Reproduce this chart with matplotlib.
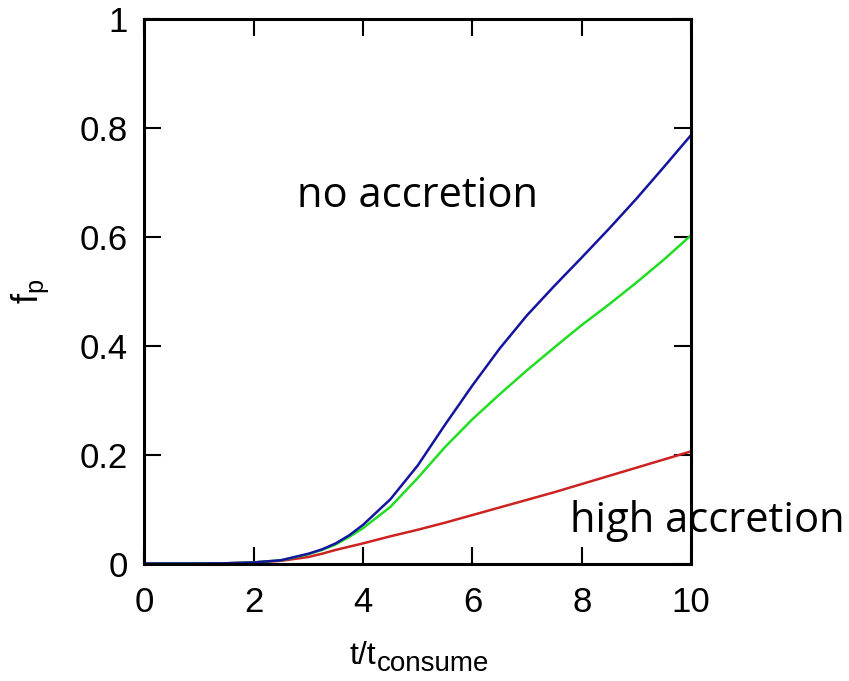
import matplotlib
matplotlib.use('Agg')
import matplotlib.pyplot as plt

# values
t = [0, 1.0, 1.5, 2.0, 2.5, 3.0, 3.25, 3.5, 3.75, 4.0, 4.5, 5.0, 5.5, 6.0, 6.5,
     7.0, 7.5, 8.0, 8.5, 9.0, 9.5, 10.0]
f_none = [0, 0, 0.0005, 0.002, 0.006, 0.018, 0.026, 0.037, 0.052, 0.071, 0.118, 0.18,
          0.255, 0.327, 0.395, 0.456, 0.51, 0.562, 0.615, 0.67, 0.728, 0.787]
f_mid = [0, 0, 0.0005, 0.002, 0.006, 0.017, 0.025, 0.035, 0.049, 0.065, 0.104, 0.157,
         0.214, 0.265, 0.311, 0.355, 0.397, 0.438, 0.476, 0.516, 0.558, 0.603]
f_high = [0, 0, 0.0005, 0.002, 0.005, 0.012, 0.018, 0.025, 0.031, 0.037, 0.05, 0.062,
          0.075, 0.089, 0.103, 0.117, 0.131, 0.146, 0.161, 0.176, 0.191, 0.206]

plt.rcParams['font.family'] = 'Liberation Sans'
plt.rcParams['mathtext.fontset'] = 'custom'
plt.rcParams['mathtext.rm'] = 'Liberation Sans'

fig = plt.figure(figsize=(8.49, 6.81), dpi=100)
ax = fig.add_axes([0.170, 0.1725, 0.644, 0.7995])

ax.plot(t, f_high, color='#cc2222', lw=1.8)
ax.plot(t, f_mid, color='#22dd22', lw=1.8)
ax.plot(t, f_none, color='#1414a0', lw=1.8)

ax.set_xlim(0, 10)
ax.set_ylim(0, 1)
ax.set_xticks([0, 2, 4, 6, 8, 10])
ax.set_yticks([0, 0.2, 0.4, 0.6, 0.8, 1])
ax.set_yticklabels(['0', '0.2', '0.4', '0.6', '0.8', '1'])
ax.tick_params(direction='in', top=True, right=True, length=12, width=1.5, labelsize=25)
ax.tick_params(axis='x', pad=16)
ax.tick_params(axis='y', pad=12)
for s in ax.spines.values():
    s.set_linewidth(2.2)

# axis labels, placed in pixels
xl = fig.text(350, 681 - 664, 't/t', transform=None, fontsize=23)
fig.canvas.draw()
ax.annotate('consume', xy=(1, 0), xycoords=xl, xytext=(0, 0),
            textcoords='offset points', fontsize=20, va='baseline')
fig.text(30, 681 - 291, r'$\mathrm{f_p}$', transform=None, fontsize=26,
         rotation=90, ha='center', va='center')

ax.text(297, 681 - 207, 'no accretion', transform=None, fontsize=30, family='Open Sans')
ax.text(570, 681 - 532, 'high accretion', transform=None, fontsize=30, family='Open Sans')

fig.savefig('out.png', dpi=100)
